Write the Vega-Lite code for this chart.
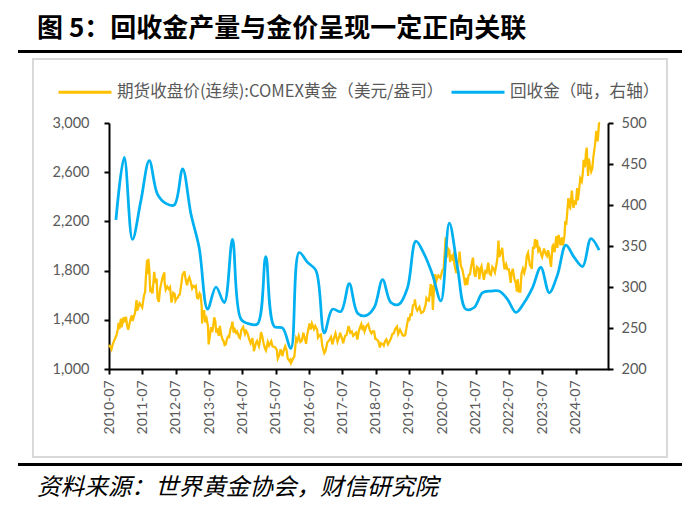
{
  "$schema": "https://vega.github.io/schema/vega-lite/v6.json",
  "background": "white",
  "padding": {"left": 18, "top": 15, "right": 0, "bottom": 0},
  "spacing": 7,
  "center": true,
  "bounds": "flush",
  "config": {
    "font": "Lato",
    "view": {"stroke": "#d9d9d9", "strokeWidth": 2},
    "axis": {
      "labelFont": "Lato",
      "labelFontSize": 14.5,
      "labelColor": "#595959",
      "domainColor": "black",
      "domainWidth": 2,
      "tickColor": "black",
      "tickWidth": 2,
      "tickSize": 5,
      "grid": false,
      "title": null
    }
  },
  "vconcat": [
    {
      "width": 662,
      "height": 1,
      "view": {"stroke": "black", "strokeWidth": 2, "fill": "black"},
      "title": {
        "text": "图 5：回收金产量与金价呈现一定正向关联",
        "anchor": "start",
        "dx": 18,
        "offset": -12,
        "baseline": "alphabetic",
        "font": "Noto Sans CJK SC",
        "fontSize": 26,
        "fontWeight": "bold",
        "color": "black"
      },
      "data": {"values": []},
      "mark": "rule",
      "encoding": {}
    },
    {
      "width": 634,
      "height": 398,
      "resolve": {"scale": {"y": "independent"}},
      "layer": [
        {
          "data": {"values": [
            {"date": "2010-07-01", "price": 1195}, {"date": "2010-07-15", "price": 1180}, {"date": "2010-07-28", "price": 1160},
            {"date": "2010-08-10", "price": 1200}, {"date": "2010-08-24", "price": 1225}, {"date": "2010-09-07", "price": 1250},
            {"date": "2010-09-21", "price": 1275}, {"date": "2010-10-05", "price": 1320}, {"date": "2010-10-14", "price": 1375},
            {"date": "2010-10-22", "price": 1325}, {"date": "2010-11-09", "price": 1410}, {"date": "2010-11-16", "price": 1340},
            {"date": "2010-11-30", "price": 1385}, {"date": "2010-12-07", "price": 1420}, {"date": "2010-12-20", "price": 1380},
            {"date": "2011-01-03", "price": 1425}, {"date": "2011-01-14", "price": 1360}, {"date": "2011-01-28", "price": 1320},
            {"date": "2011-02-10", "price": 1365}, {"date": "2011-02-24", "price": 1410}, {"date": "2011-03-08", "price": 1435},
            {"date": "2011-03-17", "price": 1390}, {"date": "2011-03-30", "price": 1425}, {"date": "2011-04-12", "price": 1455},
            {"date": "2011-04-29", "price": 1560}, {"date": "2011-05-05", "price": 1475}, {"date": "2011-05-17", "price": 1495},
            {"date": "2011-05-31", "price": 1535}, {"date": "2011-06-14", "price": 1520}, {"date": "2011-06-30", "price": 1500},
            {"date": "2011-07-08", "price": 1540}, {"date": "2011-07-20", "price": 1600}, {"date": "2011-08-01", "price": 1625},
            {"date": "2011-08-09", "price": 1745}, {"date": "2011-08-22", "price": 1885}, {"date": "2011-08-26", "price": 1770},
            {"date": "2011-09-05", "price": 1895}, {"date": "2011-09-16", "price": 1810}, {"date": "2011-09-26", "price": 1625},
            {"date": "2011-10-06", "price": 1645}, {"date": "2011-10-20", "price": 1615}, {"date": "2011-11-01", "price": 1715},
            {"date": "2011-11-08", "price": 1790}, {"date": "2011-11-22", "price": 1700}, {"date": "2011-12-05", "price": 1735},
            {"date": "2011-12-15", "price": 1575}, {"date": "2011-12-29", "price": 1545}, {"date": "2012-01-12", "price": 1650},
            {"date": "2012-01-25", "price": 1700}, {"date": "2012-02-08", "price": 1745}, {"date": "2012-02-28", "price": 1785},
            {"date": "2012-03-01", "price": 1705}, {"date": "2012-03-14", "price": 1645}, {"date": "2012-03-30", "price": 1670},
            {"date": "2012-04-16", "price": 1650}, {"date": "2012-04-30", "price": 1665}, {"date": "2012-05-16", "price": 1540},
            {"date": "2012-05-25", "price": 1575}, {"date": "2012-06-05", "price": 1620}, {"date": "2012-06-20", "price": 1610},
            {"date": "2012-06-28", "price": 1555}, {"date": "2012-07-12", "price": 1575}, {"date": "2012-07-24", "price": 1580},
            {"date": "2012-08-02", "price": 1600}, {"date": "2012-08-15", "price": 1605}, {"date": "2012-08-31", "price": 1690},
            {"date": "2012-09-14", "price": 1770}, {"date": "2012-09-28", "price": 1780}, {"date": "2012-10-04", "price": 1795},
            {"date": "2012-10-19", "price": 1725}, {"date": "2012-11-02", "price": 1680}, {"date": "2012-11-15", "price": 1725},
            {"date": "2012-11-27", "price": 1745}, {"date": "2012-12-10", "price": 1715}, {"date": "2012-12-28", "price": 1655},
            {"date": "2013-01-10", "price": 1675}, {"date": "2013-01-24", "price": 1665}, {"date": "2013-02-06", "price": 1675},
            {"date": "2013-02-20", "price": 1580}, {"date": "2013-03-05", "price": 1575}, {"date": "2013-03-20", "price": 1615},
            {"date": "2013-04-01", "price": 1600}, {"date": "2013-04-12", "price": 1500}, {"date": "2013-04-16", "price": 1370},
            {"date": "2013-04-26", "price": 1470}, {"date": "2013-05-09", "price": 1470}, {"date": "2013-05-20", "price": 1380},
            {"date": "2013-06-04", "price": 1410}, {"date": "2013-06-19", "price": 1350}, {"date": "2013-06-27", "price": 1200},
            {"date": "2013-07-10", "price": 1265}, {"date": "2013-07-23", "price": 1340}, {"date": "2013-08-05", "price": 1300},
            {"date": "2013-08-20", "price": 1370}, {"date": "2013-08-27", "price": 1420}, {"date": "2013-09-09", "price": 1385},
            {"date": "2013-09-18", "price": 1295}, {"date": "2013-09-30", "price": 1330}, {"date": "2013-10-15", "price": 1270},
            {"date": "2013-10-28", "price": 1350}, {"date": "2013-11-11", "price": 1280}, {"date": "2013-11-26", "price": 1240},
            {"date": "2013-12-06", "price": 1230}, {"date": "2013-12-19", "price": 1195}, {"date": "2013-12-31", "price": 1200},
            {"date": "2014-01-14", "price": 1245}, {"date": "2014-01-27", "price": 1265}, {"date": "2014-02-07", "price": 1260},
            {"date": "2014-02-21", "price": 1325}, {"date": "2014-03-04", "price": 1345}, {"date": "2014-03-14", "price": 1385},
            {"date": "2014-03-28", "price": 1295}, {"date": "2014-04-10", "price": 1320}, {"date": "2014-04-24", "price": 1295},
            {"date": "2014-05-05", "price": 1305}, {"date": "2014-05-28", "price": 1255}, {"date": "2014-06-05", "price": 1250},
            {"date": "2014-06-20", "price": 1315}, {"date": "2014-07-10", "price": 1340}, {"date": "2014-07-31", "price": 1285},
            {"date": "2014-08-12", "price": 1310}, {"date": "2014-08-28", "price": 1290}, {"date": "2014-09-10", "price": 1250},
            {"date": "2014-09-30", "price": 1210}, {"date": "2014-10-20", "price": 1250}, {"date": "2014-11-05", "price": 1145},
            {"date": "2014-11-20", "price": 1190}, {"date": "2014-12-01", "price": 1220}, {"date": "2014-12-10", "price": 1230},
            {"date": "2014-12-30", "price": 1185}, {"date": "2015-01-09", "price": 1220}, {"date": "2015-01-22", "price": 1300},
            {"date": "2015-02-05", "price": 1265}, {"date": "2015-02-19", "price": 1210}, {"date": "2015-03-06", "price": 1165},
            {"date": "2015-03-17", "price": 1150}, {"date": "2015-04-06", "price": 1220}, {"date": "2015-04-20", "price": 1190},
            {"date": "2015-05-14", "price": 1225}, {"date": "2015-05-27", "price": 1185}, {"date": "2015-06-12", "price": 1180},
            {"date": "2015-06-26", "price": 1175}, {"date": "2015-07-14", "price": 1155}, {"date": "2015-07-24", "price": 1085},
            {"date": "2015-08-11", "price": 1115}, {"date": "2015-08-24", "price": 1160}, {"date": "2015-09-15", "price": 1105},
            {"date": "2015-09-25", "price": 1145}, {"date": "2015-10-14", "price": 1185}, {"date": "2015-10-28", "price": 1155},
            {"date": "2015-11-11", "price": 1085}, {"date": "2015-11-30", "price": 1065}, {"date": "2015-12-10", "price": 1075},
            {"date": "2015-12-17", "price": 1050}, {"date": "2016-01-05", "price": 1080}, {"date": "2016-01-22", "price": 1100},
            {"date": "2016-02-11", "price": 1250}, {"date": "2016-02-24", "price": 1230}, {"date": "2016-03-10", "price": 1270},
            {"date": "2016-03-28", "price": 1220}, {"date": "2016-04-14", "price": 1230}, {"date": "2016-04-29", "price": 1295},
            {"date": "2016-05-10", "price": 1265}, {"date": "2016-05-30", "price": 1205}, {"date": "2016-06-10", "price": 1275},
            {"date": "2016-06-24", "price": 1325}, {"date": "2016-07-06", "price": 1370}, {"date": "2016-07-20", "price": 1320},
            {"date": "2016-08-02", "price": 1370}, {"date": "2016-08-24", "price": 1325}, {"date": "2016-09-07", "price": 1350},
            {"date": "2016-09-28", "price": 1320}, {"date": "2016-10-07", "price": 1255}, {"date": "2016-10-25", "price": 1275},
            {"date": "2016-11-08", "price": 1280}, {"date": "2016-11-24", "price": 1185}, {"date": "2016-12-15", "price": 1130},
            {"date": "2016-12-30", "price": 1150}, {"date": "2017-01-17", "price": 1215}, {"date": "2017-02-08", "price": 1235},
            {"date": "2017-02-27", "price": 1260}, {"date": "2017-03-14", "price": 1200}, {"date": "2017-03-31", "price": 1250},
            {"date": "2017-04-17", "price": 1290}, {"date": "2017-05-09", "price": 1220}, {"date": "2017-05-31", "price": 1270},
            {"date": "2017-06-06", "price": 1295}, {"date": "2017-06-28", "price": 1245}, {"date": "2017-07-10", "price": 1210},
            {"date": "2017-07-31", "price": 1270}, {"date": "2017-08-15", "price": 1275}, {"date": "2017-08-29", "price": 1320},
            {"date": "2017-09-08", "price": 1350}, {"date": "2017-09-26", "price": 1295}, {"date": "2017-10-13", "price": 1305},
            {"date": "2017-10-27", "price": 1270}, {"date": "2017-11-14", "price": 1285}, {"date": "2017-11-28", "price": 1295},
            {"date": "2017-12-12", "price": 1240}, {"date": "2017-12-29", "price": 1310}, {"date": "2018-01-12", "price": 1340},
            {"date": "2018-01-25", "price": 1365}, {"date": "2018-02-08", "price": 1315}, {"date": "2018-02-15", "price": 1355},
            {"date": "2018-03-01", "price": 1305}, {"date": "2018-03-23", "price": 1350}, {"date": "2018-04-11", "price": 1365},
            {"date": "2018-04-26", "price": 1320}, {"date": "2018-05-15", "price": 1290}, {"date": "2018-05-30", "price": 1305},
            {"date": "2018-06-14", "price": 1305}, {"date": "2018-06-28", "price": 1245}, {"date": "2018-07-13", "price": 1240},
            {"date": "2018-07-31", "price": 1225}, {"date": "2018-08-16", "price": 1175}, {"date": "2018-08-28", "price": 1210},
            {"date": "2018-09-18", "price": 1200}, {"date": "2018-09-28", "price": 1190}, {"date": "2018-10-11", "price": 1225},
            {"date": "2018-10-26", "price": 1240}, {"date": "2018-11-13", "price": 1200}, {"date": "2018-11-30", "price": 1225},
            {"date": "2018-12-14", "price": 1245}, {"date": "2018-12-31", "price": 1285}, {"date": "2019-01-15", "price": 1290},
            {"date": "2019-01-31", "price": 1325}, {"date": "2019-02-20", "price": 1345}, {"date": "2019-03-05", "price": 1285},
            {"date": "2019-03-25", "price": 1320}, {"date": "2019-04-23", "price": 1275}, {"date": "2019-05-02", "price": 1270},
            {"date": "2019-05-20", "price": 1275}, {"date": "2019-06-03", "price": 1330}, {"date": "2019-06-25", "price": 1420},
            {"date": "2019-07-02", "price": 1390}, {"date": "2019-07-18", "price": 1445}, {"date": "2019-08-01", "price": 1440},
            {"date": "2019-08-13", "price": 1515}, {"date": "2019-08-30", "price": 1530}, {"date": "2019-09-04", "price": 1565},
            {"date": "2019-09-18", "price": 1495}, {"date": "2019-10-01", "price": 1475}, {"date": "2019-10-24", "price": 1505},
            {"date": "2019-11-12", "price": 1455}, {"date": "2019-11-27", "price": 1460}, {"date": "2019-12-10", "price": 1470},
            {"date": "2019-12-31", "price": 1525}, {"date": "2020-01-08", "price": 1575}, {"date": "2020-01-20", "price": 1560},
            {"date": "2020-02-05", "price": 1555}, {"date": "2020-02-24", "price": 1690}, {"date": "2020-03-02", "price": 1595},
            {"date": "2020-03-09", "price": 1680}, {"date": "2020-03-19", "price": 1480}, {"date": "2020-03-30", "price": 1640},
            {"date": "2020-04-14", "price": 1770}, {"date": "2020-04-28", "price": 1720}, {"date": "2020-05-18", "price": 1760},
            {"date": "2020-05-29", "price": 1750}, {"date": "2020-06-10", "price": 1740}, {"date": "2020-06-30", "price": 1800},
            {"date": "2020-07-15", "price": 1815}, {"date": "2020-07-28", "price": 1960}, {"date": "2020-08-06", "price": 2070},
            {"date": "2020-08-11", "price": 1950}, {"date": "2020-08-24", "price": 1930}, {"date": "2020-09-01", "price": 1980},
            {"date": "2020-09-16", "price": 1965}, {"date": "2020-09-24", "price": 1870}, {"date": "2020-10-09", "price": 1930},
            {"date": "2020-10-28", "price": 1880}, {"date": "2020-11-06", "price": 1955}, {"date": "2020-11-09", "price": 1855},
            {"date": "2020-11-30", "price": 1780}, {"date": "2020-12-16", "price": 1860}, {"date": "2020-12-31", "price": 1895},
            {"date": "2021-01-05", "price": 1955}, {"date": "2021-01-19", "price": 1840}, {"date": "2021-02-05", "price": 1810},
            {"date": "2021-02-26", "price": 1730}, {"date": "2021-03-08", "price": 1680}, {"date": "2021-03-18", "price": 1740},
            {"date": "2021-03-30", "price": 1685}, {"date": "2021-04-15", "price": 1765}, {"date": "2021-04-30", "price": 1770},
            {"date": "2021-05-14", "price": 1840}, {"date": "2021-06-01", "price": 1905}, {"date": "2021-06-17", "price": 1775},
            {"date": "2021-06-29", "price": 1750}, {"date": "2021-07-15", "price": 1830}, {"date": "2021-08-03", "price": 1815},
            {"date": "2021-08-09", "price": 1730}, {"date": "2021-08-27", "price": 1820}, {"date": "2021-09-03", "price": 1835},
            {"date": "2021-09-29", "price": 1725}, {"date": "2021-10-14", "price": 1795}, {"date": "2021-10-29", "price": 1785},
            {"date": "2021-11-16", "price": 1865}, {"date": "2021-11-30", "price": 1775}, {"date": "2021-12-15", "price": 1765},
            {"date": "2021-12-31", "price": 1830}, {"date": "2022-01-14", "price": 1815}, {"date": "2022-01-28", "price": 1785},
            {"date": "2022-02-15", "price": 1855}, {"date": "2022-02-24", "price": 1905}, {"date": "2022-03-08", "price": 2045},
            {"date": "2022-03-16", "price": 1910}, {"date": "2022-03-31", "price": 1940}, {"date": "2022-04-18", "price": 1985},
            {"date": "2022-04-29", "price": 1895}, {"date": "2022-05-13", "price": 1810}, {"date": "2022-05-31", "price": 1850},
            {"date": "2022-06-14", "price": 1810}, {"date": "2022-06-30", "price": 1810}, {"date": "2022-07-20", "price": 1700},
            {"date": "2022-07-29", "price": 1780}, {"date": "2022-08-12", "price": 1815}, {"date": "2022-08-31", "price": 1725},
            {"date": "2022-09-14", "price": 1700}, {"date": "2022-09-26", "price": 1630}, {"date": "2022-10-04", "price": 1730},
            {"date": "2022-10-20", "price": 1630}, {"date": "2022-11-03", "price": 1630}, {"date": "2022-11-15", "price": 1775},
            {"date": "2022-12-01", "price": 1815}, {"date": "2022-12-15", "price": 1780}, {"date": "2022-12-30", "price": 1825},
            {"date": "2023-01-13", "price": 1920}, {"date": "2023-01-26", "price": 1945}, {"date": "2023-02-15", "price": 1845},
            {"date": "2023-02-28", "price": 1830}, {"date": "2023-03-08", "price": 1815}, {"date": "2023-03-20", "price": 1985},
            {"date": "2023-04-03", "price": 1985}, {"date": "2023-04-13", "price": 2055}, {"date": "2023-04-27", "price": 1990},
            {"date": "2023-05-04", "price": 2050}, {"date": "2023-05-18", "price": 1960}, {"date": "2023-06-01", "price": 1980},
            {"date": "2023-06-23", "price": 1920}, {"date": "2023-06-29", "price": 1910}, {"date": "2023-07-20", "price": 1980},
            {"date": "2023-08-04", "price": 1940}, {"date": "2023-08-21", "price": 1920}, {"date": "2023-09-01", "price": 1965},
            {"date": "2023-09-14", "price": 1930}, {"date": "2023-10-05", "price": 1830}, {"date": "2023-10-20", "price": 1995},
            {"date": "2023-10-27", "price": 2005}, {"date": "2023-11-13", "price": 1950}, {"date": "2023-11-28", "price": 2060},
            {"date": "2023-12-04", "price": 2080}, {"date": "2023-12-13", "price": 1985}, {"date": "2023-12-27", "price": 2090},
            {"date": "2024-01-17", "price": 2005}, {"date": "2024-02-01", "price": 2070}, {"date": "2024-02-14", "price": 2005},
            {"date": "2024-03-01", "price": 2090}, {"date": "2024-03-08", "price": 2190}, {"date": "2024-03-21", "price": 2185},
            {"date": "2024-04-08", "price": 2355}, {"date": "2024-04-12", "price": 2390}, {"date": "2024-04-23", "price": 2320},
            {"date": "2024-05-02", "price": 2310}, {"date": "2024-05-20", "price": 2450}, {"date": "2024-05-30", "price": 2360},
            {"date": "2024-06-07", "price": 2310}, {"date": "2024-06-20", "price": 2370}, {"date": "2024-07-02", "price": 2335},
            {"date": "2024-07-17", "price": 2470}, {"date": "2024-07-25", "price": 2370}, {"date": "2024-08-08", "price": 2460},
            {"date": "2024-08-20", "price": 2550}, {"date": "2024-09-06", "price": 2525}, {"date": "2024-09-18", "price": 2600},
            {"date": "2024-09-26", "price": 2700}, {"date": "2024-10-10", "price": 2640}, {"date": "2024-10-22", "price": 2760},
            {"date": "2024-10-30", "price": 2800}, {"date": "2024-11-06", "price": 2680}, {"date": "2024-11-14", "price": 2570},
            {"date": "2024-11-22", "price": 2710}, {"date": "2024-12-06", "price": 2650}, {"date": "2024-12-18", "price": 2605},
            {"date": "2024-12-30", "price": 2630}, {"date": "2025-01-10", "price": 2720}, {"date": "2025-01-24", "price": 2795},
            {"date": "2025-02-03", "price": 2860}, {"date": "2025-02-11", "price": 2935}, {"date": "2025-02-27", "price": 2850},
            {"date": "2025-03-07", "price": 2925}, {"date": "2025-03-13", "price": 2995}, {"date": "2025-03-18", "price": 3050},
            {"date": "2025-03-26", "price": 3070}
          ]},
          "mark": {"type": "line", "strokeWidth": 2.25},
          "encoding": {
            "x": {
              "field": "date",
              "type": "temporal",
              "scale": {
                "domain": [{"year": 2010, "month": 7, "date": 1}, {"year": 2025, "month": 7, "date": 1}],
                "range": [76, 576]
              },
              "axis": {
                "values": [
                  {"year": 2010, "month": 7, "date": 1}, {"year": 2011, "month": 7, "date": 1},
                  {"year": 2012, "month": 7, "date": 1}, {"year": 2013, "month": 7, "date": 1},
                  {"year": 2014, "month": 7, "date": 1}, {"year": 2015, "month": 7, "date": 1},
                  {"year": 2016, "month": 7, "date": 1}, {"year": 2017, "month": 7, "date": 1},
                  {"year": 2018, "month": 7, "date": 1}, {"year": 2019, "month": 7, "date": 1},
                  {"year": 2020, "month": 7, "date": 1}, {"year": 2021, "month": 7, "date": 1},
                  {"year": 2022, "month": 7, "date": 1}, {"year": 2023, "month": 7, "date": 1},
                  {"year": 2024, "month": 7, "date": 1}
                ],
                "format": "%Y-%m",
                "labelAngle": 270,
                "labelAlign": "right",
                "labelBaseline": "middle",
                "labelPadding": 6,
                "labelFontSize": 14,
                "labelOverlap": false,
                "offset": -88
              }
            },
            "y": {
              "field": "price",
              "type": "quantitative",
              "scale": {"domain": [1000, 3000], "range": [310, 64], "clamp": true},
              "axis": {
                "orient": "left",
                "values": [1000, 1400, 1800, 2200, 2600, 3000],
                "format": ",d",
                "labelPadding": 15,
                "offset": -76
              }
            },
            "color": {
              "datum": "期货收盘价(连续):COMEX黄金（美元/盎司）",
              "type": "nominal",
              "scale": {
                "domain": ["期货收盘价(连续):COMEX黄金（美元/盎司）", "回收金（吨，右轴）"],
                "range": ["#FFC000", "#00B0F0"]
              },
              "legend": {
                "title": null,
                "orient": "none",
                "legendX": 38,
                "legendY": 13,
                "direction": "horizontal",
                "padding": 0,
                "symbolType": "stroke",
                "symbolSize": 2809,
                "symbolStrokeWidth": 3,
                "labelFont": "Noto Sans CJK SC",
                "labelFontSize": 16.6,
                "labelColor": "#595959",
                "labelOffset": 4,
                "labelLimit": 500,
                "columnPadding": 1
              }
            }
          }
        },
        {
          "data": {"values": [
            {"date": "2010-09-15", "tons": 382}, {"date": "2010-12-15", "tons": 458}, {"date": "2011-03-15", "tons": 358},
            {"date": "2011-06-15", "tons": 405}, {"date": "2011-09-15", "tons": 454}, {"date": "2011-12-15", "tons": 413},
            {"date": "2012-03-15", "tons": 402}, {"date": "2012-06-15", "tons": 400}, {"date": "2012-09-15", "tons": 444},
            {"date": "2012-12-15", "tons": 389}, {"date": "2013-03-15", "tons": 348}, {"date": "2013-06-15", "tons": 273},
            {"date": "2013-09-15", "tons": 300}, {"date": "2013-12-15", "tons": 281}, {"date": "2014-03-15", "tons": 358},
            {"date": "2014-06-15", "tons": 261}, {"date": "2014-09-15", "tons": 255}, {"date": "2014-12-15", "tons": 255},
            {"date": "2015-03-15", "tons": 337}, {"date": "2015-06-15", "tons": 252}, {"date": "2015-09-15", "tons": 250},
            {"date": "2015-12-15", "tons": 225}, {"date": "2016-03-15", "tons": 342}, {"date": "2016-06-15", "tons": 330},
            {"date": "2016-09-15", "tons": 320}, {"date": "2016-12-15", "tons": 244}, {"date": "2017-03-15", "tons": 273},
            {"date": "2017-06-15", "tons": 270}, {"date": "2017-09-15", "tons": 304}, {"date": "2017-12-15", "tons": 268},
            {"date": "2018-03-15", "tons": 265}, {"date": "2018-06-15", "tons": 275}, {"date": "2018-09-15", "tons": 309},
            {"date": "2018-12-15", "tons": 281}, {"date": "2019-03-15", "tons": 279}, {"date": "2019-06-15", "tons": 299},
            {"date": "2019-09-15", "tons": 356}, {"date": "2019-12-15", "tons": 340}, {"date": "2020-03-15", "tons": 315},
            {"date": "2020-06-15", "tons": 283}, {"date": "2020-09-15", "tons": 378}, {"date": "2020-12-15", "tons": 323},
            {"date": "2021-03-15", "tons": 273}, {"date": "2021-06-15", "tons": 275}, {"date": "2021-09-15", "tons": 293},
            {"date": "2021-12-15", "tons": 295}, {"date": "2022-03-15", "tons": 295}, {"date": "2022-06-15", "tons": 285},
            {"date": "2022-09-15", "tons": 269}, {"date": "2022-12-15", "tons": 281}, {"date": "2023-03-15", "tons": 299},
            {"date": "2023-06-15", "tons": 324}, {"date": "2023-09-15", "tons": 293}, {"date": "2023-12-15", "tons": 315},
            {"date": "2024-03-15", "tons": 351}, {"date": "2024-06-15", "tons": 336}, {"date": "2024-09-15", "tons": 325},
            {"date": "2024-12-15", "tons": 359}, {"date": "2025-03-15", "tons": 345}
          ]},
          "mark": {"type": "line", "strokeWidth": 2.75, "interpolate": "catmull-rom"},
          "encoding": {
            "x": {"field": "date", "type": "temporal"},
            "y": {
              "field": "tons",
              "type": "quantitative",
              "scale": {"domain": [200, 500], "range": [310, 64]},
              "axis": {
                "orient": "right",
                "values": [200, 250, 300, 350, 400, 450, 500],
                "labelPadding": 8,
                "offset": -59
              }
            },
            "color": {"datum": "回收金（吨，右轴）", "type": "nominal"}
          }
        }
      ]
    },
    {
      "width": 662,
      "height": 1,
      "view": {"stroke": "black", "strokeWidth": 2, "fill": "black"},
      "title": {
        "text": "资料来源：世界黄金协会，财信研究院",
        "orient": "bottom",
        "anchor": "start",
        "dx": 18,
        "offset": 11,
        "font": "Noto Sans CJK SC",
        "fontSize": 23.6,
        "fontStyle": "italic",
        "fontWeight": "normal",
        "color": "black"
      },
      "data": {"values": []},
      "mark": "rule",
      "encoding": {}
    }
  ]
}
